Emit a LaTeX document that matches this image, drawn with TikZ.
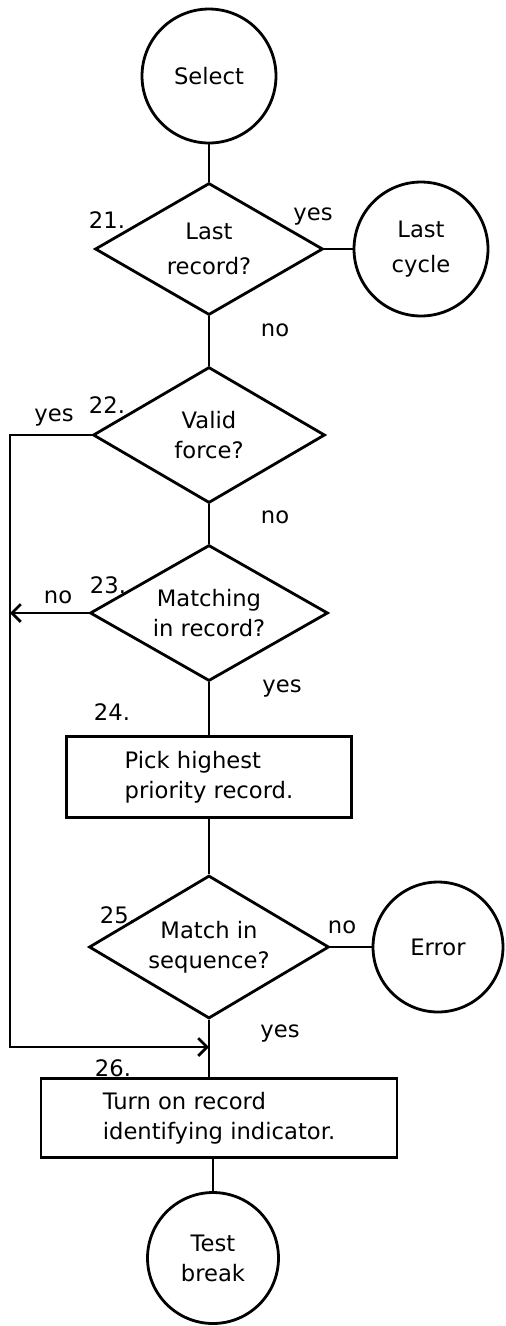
\documentclass[tikz,border=0pt]{standalone}
\usepackage{fontspec}
\setmainfont{DejaVu Sans}
\usetikzlibrary{shapes.geometric, arrows.meta}

\begin{document}
\begin{tikzpicture}[x=0.02cm, y=-0.02cm, line width=1.6pt,
    font=\fontsize{12.9}{17}\selectfont,
    >={Straight Barb[length=5pt, width=10pt]},
    terminal/.style={draw, circle, minimum size=2.68cm, inner sep=0pt, align=center},
    decision/.style={draw, diamond, aspect=1.7, inner sep=0pt, align=center},
    process/.style={draw, rectangle, inner sep=0pt, align=left},
    tag/.style={inner sep=0pt}]
    % Canvas in pixels of the sheet: 1 unit = 1 px (506 x 1326), y runs down
    \useasboundingbox (0,0) rectangle (506,1326);

    % --- COORDINATES ---
    \coordinate (Rail) at (10,0);      % left return line
    \coordinate (Join) at (209,1047);  % loop re-enters above step 26

    % --- NODES ---
    \node[terminal] (select) at (209,76) {Select};
    \node[decision, minimum width=4.56cm, minimum height=2.64cm] (last) at (209,249) {Last\\[3pt]record?};
    \node[terminal] (lastcyc) at (421,249) {Last\\[3pt]cycle};
    \node[decision, minimum width=4.64cm, minimum height=2.72cm] (valid) at (209,435) {Valid\\force?};
    \node[decision, minimum width=4.76cm, minimum height=2.72cm] (matching) at (209,613) {Matching\\in record?};
    \node[process, minimum width=5.7cm, minimum height=1.62cm] (pick) at (209,777) {Pick highest\\priority record.};
    \node[decision, minimum width=4.8cm, minimum height=2.86cm] (seq) at (209,947) {Match in\\sequence?};
    \node[terminal, minimum size=2.6cm] (error) at (438,947) {Error};
    \node[process, minimum width=7.12cm, minimum height=1.58cm] (turn) at (219,1118) {Turn on record\\identifying indicator.};
    \node[terminal, minimum size=2.62cm] (brk) at (213,1258) {Test\\break};

    % --- CONNECTORS ---
    \draw (select) -- (last);
    \draw (last) -- (lastcyc);
    \draw (last) -- (valid);
    \draw (valid) -- (matching);
    \draw (matching) -- (pick);
    \draw (pick) -- (seq);
    \draw (seq) -- (error);
    \draw (seq.south) -- (seq.south |- turn.north);
    \draw (brk.north |- turn.south) -- (brk);

    % return paths on the left
    \draw[->] (valid.west) -- (valid.west -| Rail) -- (Rail |- Join) -- (Join);
    \draw[->] (matching.west) -- (matching.west -| Rail);

    % --- LABELS ---
    \foreach \x/\y/\t [count=\i] in {107/220/21., 313/217/yes, 275/330/no,
        107/405/22., 54/418/yes, 275/517/no,
        108/585/23., 58/597/no, 282/688/yes, 112/712/24.,
        118/915/25., 342/927/no, 280/1033/yes, 113/1068/26.}
        \node[tag] (lbl\i) at (\x,\y) {\t};
\end{tikzpicture}
\end{document}
